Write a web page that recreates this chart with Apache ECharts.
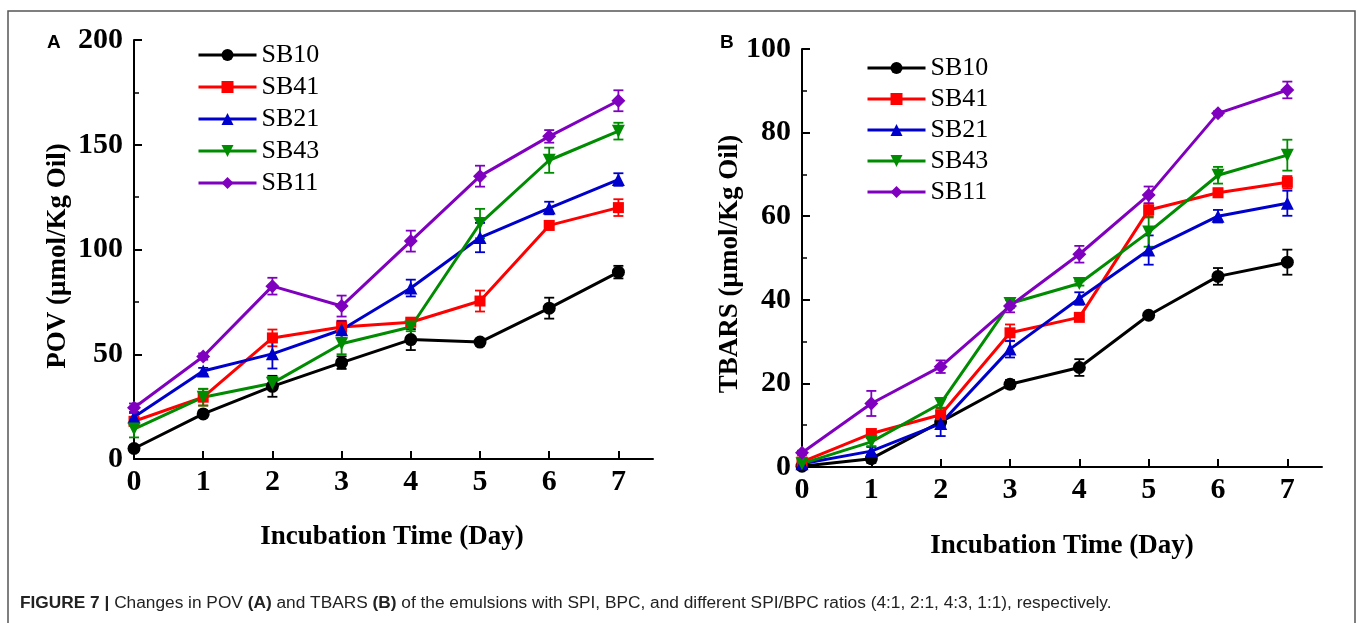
<!DOCTYPE html>
<html>
<head>
<meta charset="utf-8">
<title>Figure 7</title>
<script src="https://cdn.jsdelivr.net/npm/echarts@6/dist/echarts.min.js"></script>
<style>
  html, body { margin: 0; padding: 0; background: #fff; }
  #chart { width: 1357px; height: 623px; }
</style>
</head>
<body>
<div id="chart"></div>
<script>
// incubation days
var days = [0, 1, 2, 3, 4, 5, 6, 7];
var names = ['SB10', 'SB41', 'SB21', 'SB43', 'SB11'];
var yTicksA = [0, 50, 100, 150, 200];
var yTicksB = [0, 20, 40, 60, 80, 100];

// POV (A)
var povSB10 = [5, 21.5, 34.7, 46, 57, 55.8, 72, 89.2];
var povSB41 = [18, 29.5, 57.8, 63, 65.3, 75.4, 111.5, 120];
var povSB21 = [20, 42, 50.2, 61.7, 81.6, 105.7, 119.8, 133.4];
var povSB43 = [14.3, 29.5, 36.2, 55, 63, 112.4, 142.6, 156.5];
var povSB11 = [24.5, 48.9, 82.5, 73, 104, 135, 154, 171];
var povErrSB10 = [1.5, 1.5, 5, 3, 5, 1.5, 5, 3];
var povErrSB41 = [2, 4, 4, 3, 1.5, 5, 2, 4];
var povErrSB21 = [2, 1.5, 7, 4, 4, 7, 3, 3];
var povErrSB43 = [4, 4, 3, 5, 2, 7, 6, 4];
var povErrSB11 = [2, 1.5, 4, 5, 5, 5, 3, 5];

// TBARS (B)
var tbSB10 = [0.2, 2, 10.8, 19.8, 23.8, 36.3, 45.6, 49];
var tbSB41 = [1.2, 8, 12.5, 32.1, 35.8, 61.5, 65.6, 68.1];
var tbSB21 = [0.8, 3.8, 10.4, 28.2, 40.3, 51.9, 60, 63.1];
var tbSB43 = [0.8, 6, 15.2, 39.1, 43.9, 56.2, 69.8, 74.6];
var tbSB11 = [3.4, 15.2, 24, 38.5, 50.9, 65.1, 84.6, 90.2];
var tbErrSB10 = [0.3, 1, 1, 1, 2, 0.5, 2, 3];
var tbErrSB41 = [0.5, 1, 1.5, 2, 0.5, 1.5, 1, 1.5];
var tbErrSB21 = [0.5, 1, 3, 2, 1.5, 3.5, 1.5, 3];
var tbErrSB43 = [0.5, 1, 1, 1, 0.5, 3.5, 2, 3.7];
var tbErrSB11 = [0.5, 3, 1.5, 1.5, 2, 2, 0.5, 2];

var povVals = [povSB10, povSB41, povSB21, povSB43, povSB11];
var povErrs = [povErrSB10, povErrSB41, povErrSB21, povErrSB43, povErrSB11];
var tbVals = [tbSB10, tbSB41, tbSB21, tbSB43, tbSB11];
var tbErrs = [tbErrSB10, tbErrSB41, tbErrSB21, tbErrSB43, tbErrSB11];

var colors = ['#000000', '#ff0000', '#0000cc', '#008c00', '#8000bf'];
var symbols = ['circle', 'rect', 'triangle', 'triangle', 'diamond'];
var rotates = [0, 0, 0, 180, 0];
var sizes = [13, 11, 13, 13, 14];

var serif = '"Liberation Serif", "Times New Roman", serif';

function pairs(vals) {
  return days.map(function (d, i) { return [d, vals[i]]; });
}
function errData(vals, errs) {
  return days.map(function (d, i) { return [d, vals[i] - errs[i], vals[i] + errs[i]]; });
}
function renderErr(params, api) {
  var lo = api.coord([api.value(0), api.value(1)]);
  var hi = api.coord([api.value(0), api.value(2)]);
  var w = 5;
  var st = { stroke: api.visual('color'), lineWidth: 1.8 };
  return {
    type: 'group',
    children: [
      { type: 'line', shape: { x1: lo[0], y1: lo[1], x2: hi[0], y2: hi[1] }, style: st },
      { type: 'line', shape: { x1: lo[0] - w, y1: lo[1], x2: lo[0] + w, y2: lo[1] }, style: st },
      { type: 'line', shape: { x1: hi[0] - w, y1: hi[1], x2: hi[0] + w, y2: hi[1] }, style: st }
    ]
  };
}

function xAxisOf(idx) {
  return {
    gridIndex: idx, type: 'value', min: 0, max: 7.5,
    axisLine: { show: true, onZero: false, lineStyle: { color: '#000', width: 2 } },
    axisTick: { show: true, inside: true, length: 8, lineStyle: { color: '#000', width: 2 }, customValues: days },
    axisLabel: { color: '#000', fontFamily: serif, fontWeight: 'bold', fontSize: 30, margin: 8, customValues: days },
    splitLine: { show: false }
  };
}
function yAxisOf(idx, max, interval) {
  return {
    gridIndex: idx, type: 'value', min: 0, max: max, interval: interval,
    axisLine: { show: true, lineStyle: { color: '#000', width: 2 } },
    axisTick: { show: true, inside: true, length: 8, lineStyle: { color: '#000', width: 2 } },
    minorTick: { show: true, splitNumber: 2, length: 5, lineStyle: { color: '#000', width: 1.5 } },
    axisLabel: { color: '#000', fontFamily: serif, fontWeight: 'bold', fontSize: 30, margin: 11 },
    splitLine: { show: false }
  };
}

var series = [];
[[povVals, povErrs], [tbVals, tbErrs]].forEach(function (panel, g) {
  names.forEach(function (n, k) {
    series.push({
      type: 'custom', name: n + '-err', xAxisIndex: g, yAxisIndex: g,
      renderItem: renderErr, itemStyle: { color: colors[k] },
      data: errData(panel[0][k], panel[1][k]), z: 2, silent: true
    });
  });
  names.forEach(function (n, k) {
    series.push({
      type: 'line', name: n, xAxisIndex: g, yAxisIndex: g,
      data: pairs(panel[0][k]),
      symbol: symbols[k], symbolSize: sizes[k], symbolRotate: rotates[k],
      showAllSymbol: true,
      lineStyle: { color: colors[k], width: 3 },
      itemStyle: { color: colors[k] },
      z: 3
    });
  });
});

function legendOf(left, top, gap) {
  return {
    left: left, top: top, orient: 'vertical', data: names, padding: 0,
    itemWidth: 58, itemHeight: 15, itemGap: gap,
    lineStyle: { width: 3 },
    textStyle: { fontFamily: serif, fontSize: 26, color: '#000' },
    selectedMode: false
  };
}

var option = {
  animation: false,
  backgroundColor: '#fff',
  grid: [
    { left: 134, top: 40, width: 519, height: 419 },
    { left: 802, top: 49, width: 520, height: 418 }
  ],
  xAxis: [xAxisOf(0), xAxisOf(1)],
  yAxis: [yAxisOf(0, 200, 50), yAxisOf(1, 100, 20)],
  legend: [legendOf(197, 42, 6), legendOf(866, 55, 5)],
  series: series,
  graphic: [
    { type: 'rect', shape: { x: 8, y: 11, width: 1347, height: 700 }, style: { fill: 'none', stroke: '#555', lineWidth: 1.5 }, silent: true },
    { type: 'text', x: 47, y: 43, style: { text: 'A', font: 'bold 19px "Liberation Sans", Arial, sans-serif', fill: '#000', verticalAlign: 'middle' } },
    { type: 'text', x: 720, y: 43, style: { text: 'B', font: 'bold 19px "Liberation Sans", Arial, sans-serif', fill: '#000', verticalAlign: 'middle' } },
    { type: 'text', x: 58, y: 256, rotation: Math.PI / 2, style: { text: 'POV (μmol/Kg Oil)', font: 'bold 27px ' + serif, fill: '#000', align: 'center', verticalAlign: 'middle' } },
    { type: 'text', x: 730, y: 264, rotation: Math.PI / 2, style: { text: 'TBARS (μmol/Kg Oil)', font: 'bold 27px ' + serif, fill: '#000', align: 'center', verticalAlign: 'middle' } },
    { type: 'text', x: 392, y: 537, style: { text: 'Incubation Time (Day)', font: 'bold 27px ' + serif, fill: '#000', align: 'center', verticalAlign: 'middle' } },
    { type: 'text', x: 1062, y: 546, style: { text: 'Incubation Time (Day)', font: 'bold 27px ' + serif, fill: '#000', align: 'center', verticalAlign: 'middle' } },
    {
      type: 'text', x: 20, y: 603,
      style: {
        text: '{b|FIGURE 7 | }{n|Changes in POV }{b|(A)}{n| and TBARS }{b|(B)}{n| of the emulsions with SPI, BPC, and different SPI/BPC ratios (4:1, 2:1, 4:3, 1:1), respectively.}',
        verticalAlign: 'middle',
        rich: {
          b: { font: 'bold 17.3px "Liberation Sans", Arial, sans-serif', fill: '#222' },
          n: { font: '17.3px "Liberation Sans", Arial, sans-serif', fill: '#222' }
        }
      }
    }
  ]
};

var chart = echarts.init(document.getElementById('chart'));
chart.setOption(option);
</script>
</body>
</html>
